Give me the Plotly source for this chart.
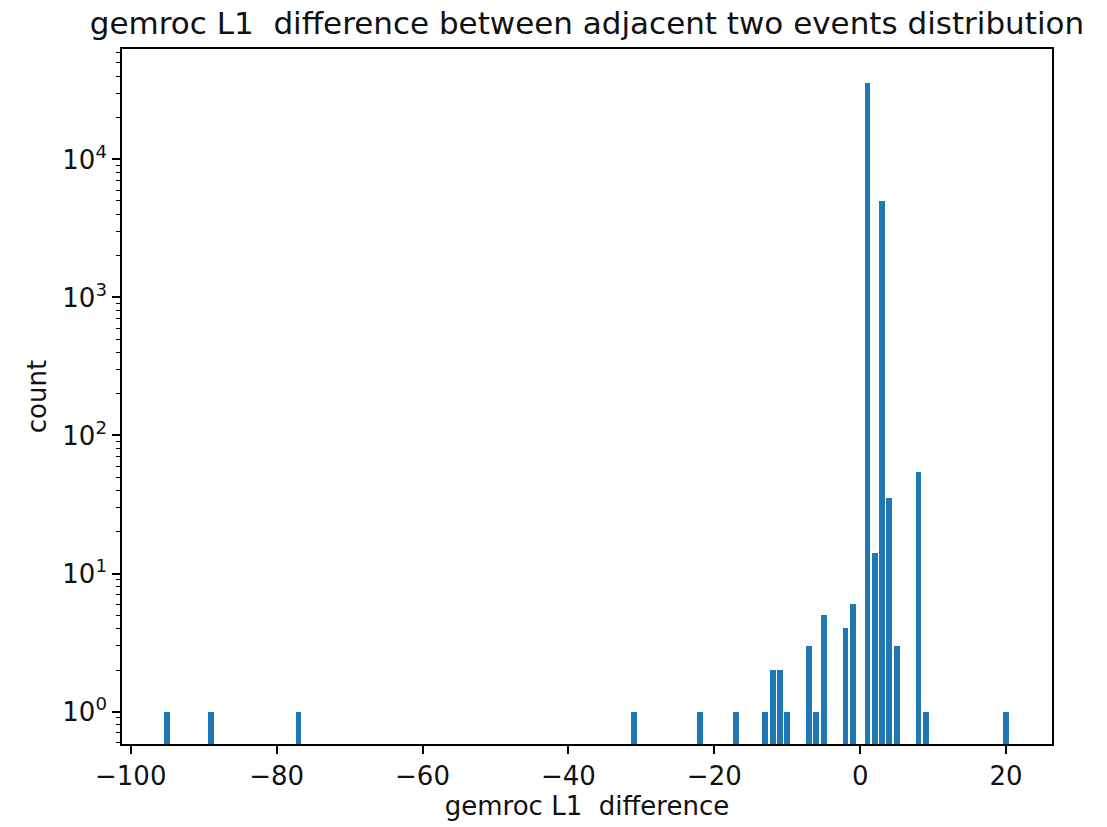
import plotly.graph_objects as go

# Histogram bins (difference values) and counts
differences = [-95, -89, -77, -31, -22, -17, -13, -12, -11, -10, -7, -6, -5,
               -2, -1, 1, 2, 3, 4, 5, 8, 9, 20]
counts = [1, 1, 1, 1, 1, 1, 1, 2, 2, 1, 3, 1, 5,
          4, 6, 36000, 14, 5000, 35, 3, 54, 1, 1]

x_ticks = [-100, -80, -60, -40, -20, 0, 20]
y_ticks = [1, 10, 100, 1000, 10000]
y_tick_text = ["10<sup>0</sup>", "10<sup>1</sup>", "10<sup>2</sup>",
               "10<sup>3</sup>", "10<sup>4</sup>"]
y_minor = [k * 10 ** d for d in range(-1, 5) for k in range(2, 10)]

FONT = "DejaVu Sans"

fig = go.Figure(
    go.Bar(
        x=differences,
        y=counts,
        width=0.8,
        marker=dict(color="#1f77b4", line=dict(width=0)),
    )
)

axis_common = dict(
    showline=True,
    linecolor="black",
    linewidth=1.6,
    mirror=True,
    ticks="outside",
    tickcolor="black",
    tickwidth=1.6,
    ticklen=8,
    showgrid=False,
    zeroline=False,
    tickfont=dict(family=FONT, size=26, color="#111"),
)

fig.update_layout(
    width=1107,
    height=827,
    margin=dict(l=114, r=63, t=41, b=91),
    paper_bgcolor="white",
    plot_bgcolor="white",
    showlegend=False,
    bargap=0,
    title=dict(
        text="gemroc L1\u00a0 difference between adjacent two events distribution",
        x=579 / 1107,
        xanchor="center",
        y=1 - 4 / 827,
        yanchor="top",
        pad=dict(t=0, b=0),
        font=dict(family=FONT, size=31, color="#111"),
    ),
    xaxis=dict(
        **axis_common,
        range=[-101.2, 26.3],
        tickvals=x_ticks,
        title=dict(text="gemroc L1\u00a0 difference",
                   font=dict(family=FONT, size=26, color="#111"),
                   standoff=4),
    ),
    yaxis=dict(
        **axis_common,
        type="log",
        range=[-0.235, 4.80],
        tickvals=y_ticks,
        ticktext=y_tick_text,
        minor=dict(ticks="outside", ticklen=4.5, tickwidth=1.2,
                   tickcolor="black", tickvals=y_minor, showgrid=False),
        title=dict(text="count",
                   font=dict(family=FONT, size=26, color="#111"),
                   standoff=8),
    ),
)

fig.write_html("out.html")
